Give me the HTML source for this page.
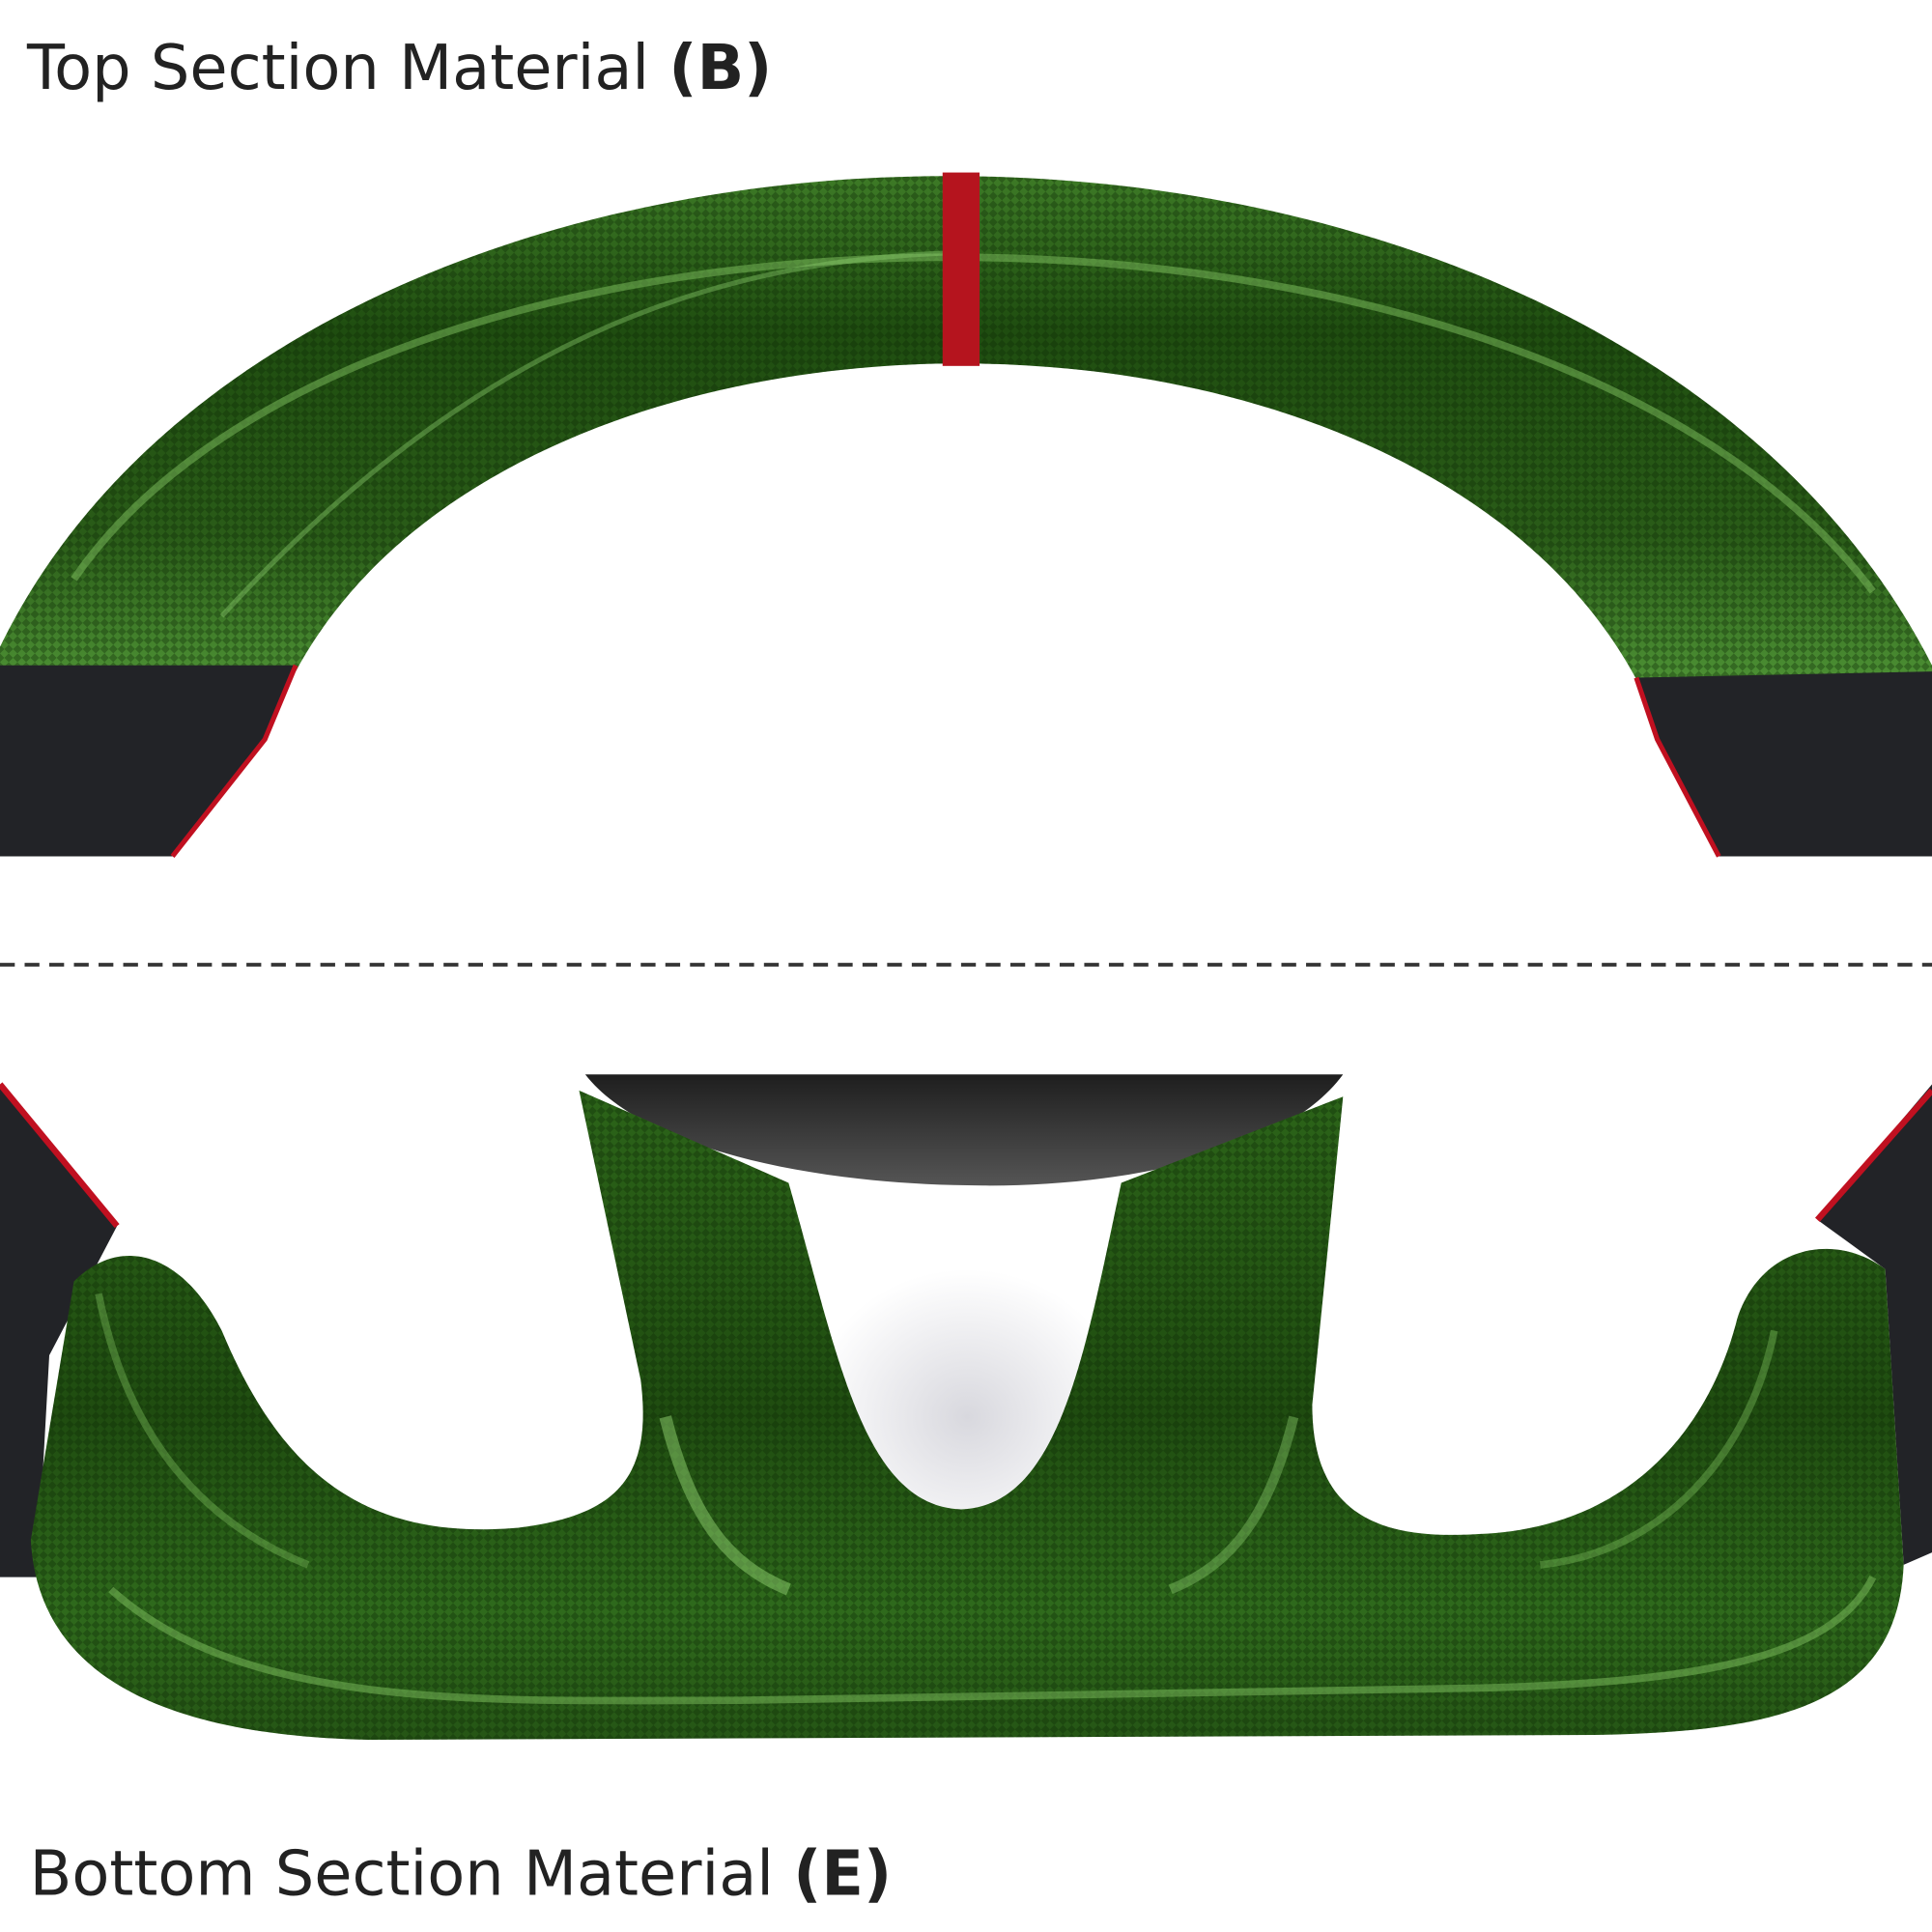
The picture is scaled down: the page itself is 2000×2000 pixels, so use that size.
<!DOCTYPE html>
<html><head><meta charset="utf-8"><style>
html,body{margin:0;padding:0;background:#fff;}
svg{display:block;}
</style></head><body>
<svg width="2000" height="2000" viewBox="0 0 1568 1568" xmlns="http://www.w3.org/2000/svg">
<defs>
<linearGradient id="g1" x1="0" y1="0" x2="0" y2="1">
<stop offset="0" stop-color="#3d7a26"/>
<stop offset="0.3" stop-color="#1f4d10"/>
<stop offset="0.7" stop-color="#2a5c18"/>
<stop offset="1" stop-color="#4f9436"/>
</linearGradient>
<linearGradient id="g2" x1="0" y1="0" x2="0" y2="1">
<stop offset="0" stop-color="#2c6419"/>
<stop offset="0.5" stop-color="#1f4c10"/>
<stop offset="0.8" stop-color="#2f6a1c"/>
<stop offset="1" stop-color="#255515"/>
</linearGradient>
<linearGradient id="dome" x1="0" y1="0" x2="0" y2="1">
<stop offset="0" stop-color="#1e1e1e"/>
<stop offset="1" stop-color="#555"/>
</linearGradient>
<radialGradient id="shadow" cx="0.5" cy="0.5" r="0.5">
<stop offset="0" stop-color="#d8d8de"/>
<stop offset="1" stop-color="#fff"/>
</radialGradient>
<pattern id="weave" width="10" height="10" patternUnits="userSpaceOnUse" patternTransform="rotate(45)">
<rect width="5" height="5" fill="#0d2a06"/>
<rect x="5" y="5" width="5" height="5" fill="#0d2a06"/>
</pattern>
</defs>
<rect width="1568" height="1568" fill="#fff"/>
<text x="22" y="72" font-family="DejaVu Sans, Liberation Sans, sans-serif" font-size="50" fill="#222">Top Section Material <tspan font-weight="bold">(B)</tspan></text>

<!-- top arc -->
<path d="M0,525 C250,13 1300,13 1568,540 L1568,560 L1330,555 C1150,210 420,210 240,545 L0,545 Z" fill="url(#g1)"/>
<path d="M0,525 C250,13 1300,13 1568,540 L1568,560 L1330,555 C1150,210 420,210 240,545 L0,545 Z" fill="url(#weave)" opacity="0.35"/>
<path d="M60,470 C300,120 1250,120 1520,480" fill="none" stroke="#7fc060" stroke-width="6" opacity="0.5"/>
<path d="M180,500 C400,260 600,210 780,205" fill="none" stroke="#8fd070" stroke-width="4" opacity="0.4"/>
<rect x="765" y="140" width="30" height="157" fill="#b5141e"/>
<!-- grips -->
<path d="M0,540 L240,540 L215,600 L140,695 L0,695 Z" fill="#222327"/>
<path d="M240,540 L215,600 L140,695" fill="none" stroke="#c01020" stroke-width="4"/>
<path d="M1328,550 L1568,545 L1568,695 L1395,695 L1345,600 Z" fill="#222327"/>
<path d="M1328,550 L1345,600 L1395,695" fill="none" stroke="#c01020" stroke-width="4"/>

<!-- dashed -->
<line x1="0" y1="783" x2="1568" y2="783" stroke="#333" stroke-width="3" stroke-dasharray="12,8"/>

<!-- bottom -->
<ellipse cx="785" cy="1150" rx="130" ry="120" fill="url(#shadow)"/>
<path d="M475,872 L1090,872 C1040,940 900,965 785,962 C650,960 520,930 475,872 Z" fill="url(#dome)"/>
<path d="M0,880 L95,995 L40,1100 L30,1280 L0,1280 Z" fill="#222327"/>
<path d="M0,880 L95,995" stroke="#c01020" stroke-width="5"/>
<path d="M1568,880 L1475,990 L1530,1030 L1545,1270 L1568,1260 Z" fill="#222327"/>
<path d="M1568,885 L1475,990" stroke="#c01020" stroke-width="5"/>
<path d="M60,1040 C100,1000 150,1020 180,1080 C230,1200 300,1250 420,1240 C500,1230 530,1200 520,1120 L470,885 L640,960 C680,1100 700,1222 780,1225 C860,1222 880,1100 910,960 L1090,890 L1065,1140 C1065,1230 1120,1250 1200,1245 C1330,1240 1390,1150 1410,1070 C1430,1010 1490,1000 1530,1030 L1545,1270 C1540,1380 1450,1405 1300,1408 L300,1412 C100,1408 30,1340 25,1250 Z" fill="url(#g2)"/>
<path d="M60,1040 C100,1000 150,1020 180,1080 C230,1200 300,1250 420,1240 C500,1230 530,1200 520,1120 L470,885 L640,960 C680,1100 700,1222 780,1225 C860,1222 880,1100 910,960 L1090,890 L1065,1140 C1065,1230 1120,1250 1200,1245 C1330,1240 1390,1150 1410,1070 C1430,1010 1490,1000 1530,1030 L1545,1270 C1540,1380 1450,1405 1300,1408 L300,1412 C100,1408 30,1340 25,1250 Z" fill="url(#weave)" opacity="0.35"/>
<path d="M540,1150 C560,1230 590,1270 640,1290" fill="none" stroke="#8fd070" stroke-width="10" opacity="0.5"/>
<path d="M1050,1150 C1030,1230 1000,1270 950,1290" fill="none" stroke="#8fd070" stroke-width="8" opacity="0.4"/>
<path d="M90,1290 C200,1390 400,1380 600,1380 L1200,1370 C1400,1365 1490,1340 1520,1280" fill="none" stroke="#7fc060" stroke-width="6" opacity="0.5"/>
<path d="M80,1050 C100,1150 150,1230 250,1270" fill="none" stroke="#7fc060" stroke-width="6" opacity="0.4"/>
<path d="M1250,1270 C1350,1260 1420,1180 1440,1080" fill="none" stroke="#7fc060" stroke-width="6" opacity="0.4"/>

<text x="24" y="1538" font-family="DejaVu Sans, Liberation Sans, sans-serif" font-size="50" fill="#222">Bottom Section Material <tspan font-weight="bold">(E)</tspan></text>
</svg>
</body></html>
